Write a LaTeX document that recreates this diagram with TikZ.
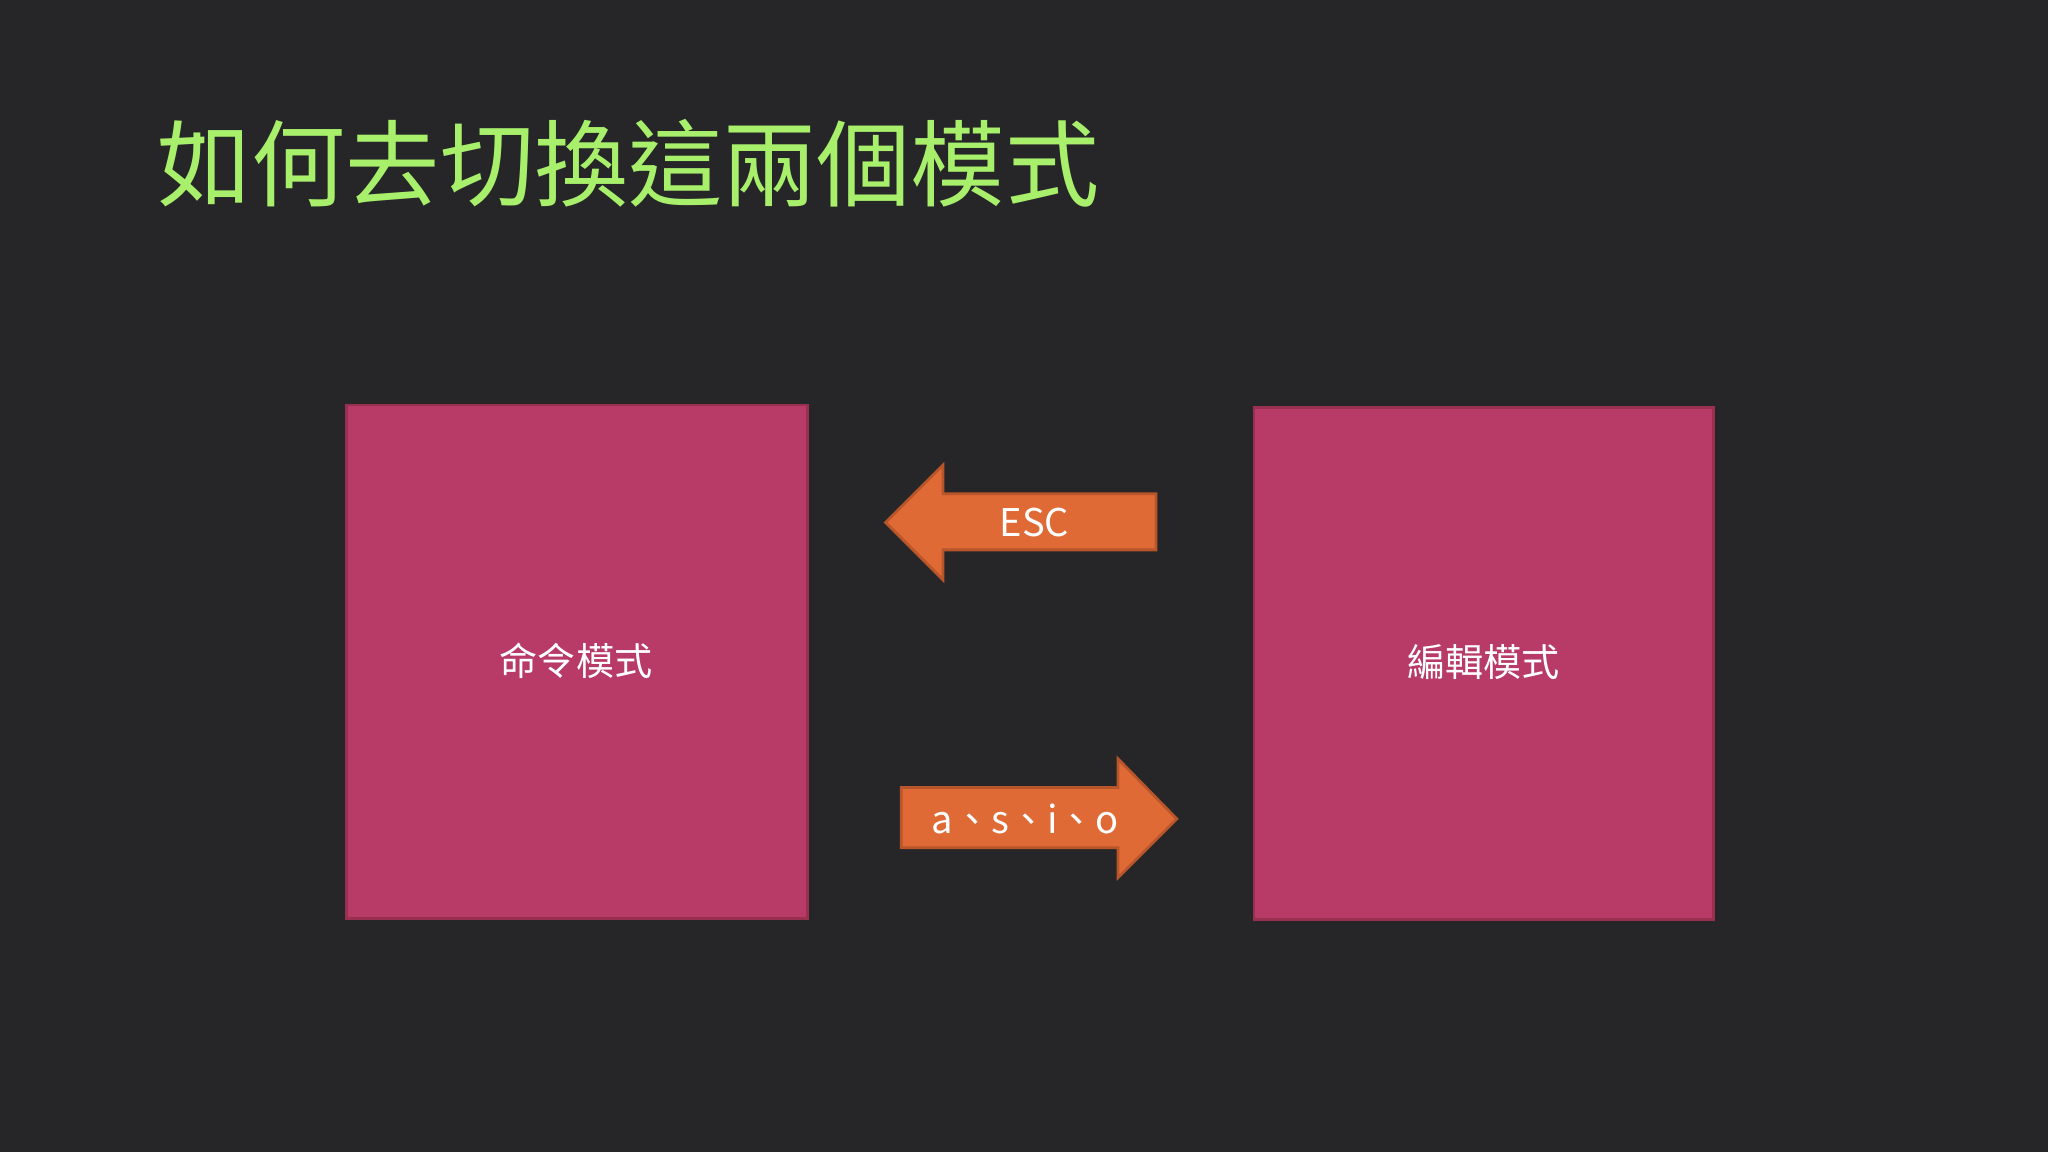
\documentclass[tikz,border=0pt]{standalone}
\usepackage{fontspec}
\setmainfont{Noto Sans CJK TC}
\definecolor{bg}{HTML}{262628}
\definecolor{boxc}{HTML}{B83A66}
\definecolor{boxb}{HTML}{9A3050}
\definecolor{arr}{HTML}{E06A35}
\definecolor{arrb}{HTML}{B8552A}
\definecolor{titlec}{HTML}{A8F06C}
\begin{document}
\begin{tikzpicture}[x=0.01cm,y=-0.01cm,
  modebox/.style={fill=boxc,draw=boxb,line width=0.6pt},
  arrowshape/.style={fill=arr,draw=arrb,line width=0.6pt},
  lbl/.style={text=white,font=\fontsize{8.3pt}{10pt}\selectfont}]
\fill[bg] (0,0) rectangle (1568,882);
\useasboundingbox (0,0) rectangle (1568,882);
\node[anchor=west,text=titlec,font=\fontsize{20.5pt}{24pt}\selectfont,inner sep=0] (title) at (120,125) {如何去切換這兩個模式};
\draw[modebox] (265,310) rectangle (618,703);
\draw[modebox] (960,312) rectangle (1312,704);
\node[lbl] (cmd) at (441,506) {命令模式};
\node[lbl] (edit) at (1136,507) {編輯模式};
\draw[arrowshape] (678,400) -- (722,356) -- (722,378) -- (885,378) -- (885,421) -- (722,421) -- (722,444) -- cycle;
\draw[arrowshape] (901,627) -- (856,581) -- (856,603) -- (690,603) -- (690,649) -- (856,649) -- (856,672) -- cycle;
\node[lbl] (esc) at (792,400) {ESC};
\node[lbl] (keys) at (785,627) {a、s、i、o};
\end{tikzpicture}
\end{document}
